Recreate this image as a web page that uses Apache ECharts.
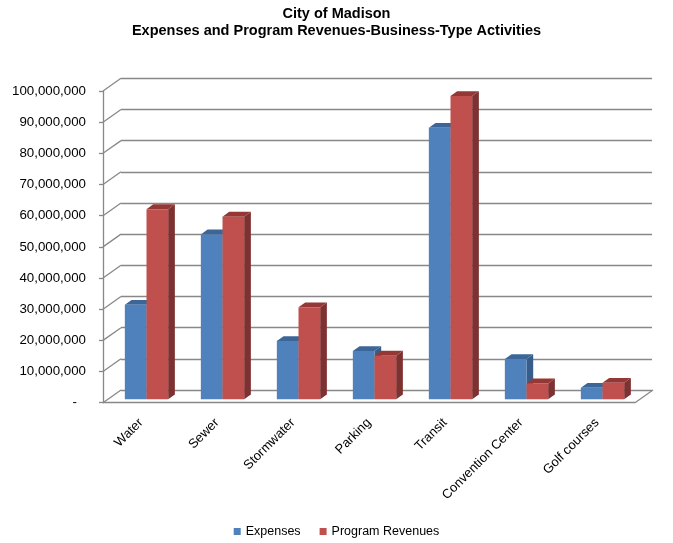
<!DOCTYPE html>
<html lang="en">
<head>
    <meta charset="UTF-8">
    <title>City of Madison</title>
    <script src="https://cdn.jsdelivr.net/npm/echarts@6/dist/echarts.min.js"></script>
    <style>
        html, body { margin: 0; padding: 0; background: #fff; }
        #chart { width: 673px; height: 543px; }
    </style>
</head>
<body>
<div id="chart"></div>
<script>
    // data
    var categories = ['Water', 'Sewer', 'Stormwater', 'Parking', 'Transit', 'Convention Center', 'Golf courses'];
    var expenses = [30300000, 52900000, 18700000, 15500000, 87100000, 12900000, 3700000];
    var revenues = [61000000, 58600000, 29500000, 14000000, 97300000, 5100000, 5300000];
    var seriesNames = ['Expenses', 'Program Revenues'];
    var yMax = 100000000;
    var yStep = 10000000;

    // fake 3d: back wall offset and bar depth
    var WALL_DX = 18, WALL_DY = -12.7;
    var BAR_DX = 6.7, BAR_DY = -4.8;
    var front = { left: 103, right: 38, top: 91, bottom: 140.3 };

    var blue = { front: '#4F81BD', side: '#385D8A', top: '#3C6697' };
    var red = { front: '#C0504D', side: '#7D3130', top: '#953835' };
    var lineColor = '#888888';

    var yTicks = [];
    for (var t = 0; t <= yMax; t += yStep) yTicks.push([0, t]);

    function barItem(isLeft, c) {
        return function (params, api) {
            var i = api.value(0);
            var top = api.coord([i, api.value(1)]);
            var base = api.coord([i, 0]);
            var bw = api.size([1, 0])[0] * 0.285;
            var x = isLeft ? top[0] - bw : top[0];
            var yT = top[1], yB = base[1];
            return {
                type: 'group',
                children: [
                    { type: 'polygon', shape: { points: [[x + bw, yB], [x + bw + BAR_DX, yB + BAR_DY], [x + bw + BAR_DX, yT + BAR_DY], [x + bw, yT]] }, style: { fill: c.side } },
                    { type: 'polygon', shape: { points: [[x, yT], [x + BAR_DX, yT + BAR_DY], [x + bw + BAR_DX, yT + BAR_DY], [x + bw, yT]] }, style: { fill: c.top } },
                    { type: 'rect', shape: { x: x, y: yT, width: bw, height: yB - yT }, style: { fill: c.front } }
                ]
            };
        };
    }

    // slanted lines of the side wall, plus the right edge of the floor
    function wallSlant(params, api) {
        var p = api.coord([0, api.value(1)]);
        var cs = params.coordSys;
        var kids = [{
            type: 'line',
            shape: { x1: cs.x, y1: p[1], x2: cs.x + WALL_DX, y2: p[1] + WALL_DY },
            style: { stroke: lineColor, lineWidth: 1.3 }
        }];
        if (api.value(1) === 0) {
            kids.push({
                type: 'line',
                shape: { x1: cs.x + cs.width, y1: p[1], x2: cs.x + cs.width + WALL_DX, y2: p[1] + WALL_DY },
                style: { stroke: lineColor, lineWidth: 1.3 }
            });
        }
        return { type: 'group', children: kids };
    }

    var myChart = echarts.init(document.getElementById('chart'));
    myChart.setOption({
        animation: false,
        textStyle: { fontFamily: 'Liberation Sans, Arial, sans-serif' },
        title: {
            text: 'City of Madison\nExpenses and Program Revenues-Business-Type Activities',
            left: 'center',
            top: 0,
            textStyle: { fontSize: 14.5, fontWeight: 'bold', color: '#000', lineHeight: 17 }
        },
        legend: {
            data: seriesNames,
            bottom: 0,
            left: 'center',
            icon: 'rect',
            itemWidth: 7,
            itemHeight: 7,
            itemGap: 19,
            textStyle: { fontSize: 12.5, color: '#000' }
        },
        grid: [
            front,
            { left: front.left + WALL_DX, right: front.right - WALL_DX + 1, top: front.top + WALL_DY, bottom: front.bottom - WALL_DY },
            { left: front.left + 5.5, right: front.right - 5.5, top: front.top - 3.4, bottom: front.bottom + 3.4 }
        ],
        xAxis: [
            {
                gridIndex: 0, type: 'category', data: categories,
                axisLine: { lineStyle: { color: lineColor, width: 1.3 } },
                axisTick: { length: 5, lineStyle: { color: lineColor, width: 1.3 } },
                axisLabel: { rotate: 45, margin: 18, fontSize: 13, color: '#000' }
            },
            { gridIndex: 1, type: 'category', data: categories, show: false },
            { gridIndex: 2, type: 'category', data: categories, show: false }
        ],
        yAxis: [
            {
                gridIndex: 0, type: 'value', min: 0, max: yMax, interval: yStep,
                axisLine: { show: true, lineStyle: { color: lineColor, width: 1.3 } },
                axisTick: { show: true, length: 4, lineStyle: { color: lineColor, width: 1.3 } },
                splitLine: { show: false },
                axisLabel: {
                    margin: 17, fontSize: 13.3, color: '#000',
                    formatter: function (v) {
                        return v === 0 ? '{d|-}' : v.toLocaleString('en-US');
                    },
                    rich: { d: { fontSize: 13.3, color: '#000', padding: [0, 9, 0, 0] } }
                }
            },
            {
                gridIndex: 1, type: 'value', min: 0, max: yMax, interval: yStep,
                axisLine: { show: false }, axisTick: { show: false }, axisLabel: { show: false },
                splitLine: { show: true, lineStyle: { color: lineColor, width: 1.3 } }
            },
            { gridIndex: 2, type: 'value', min: 0, max: yMax, interval: yStep, show: false, splitLine: { show: false } }
        ],
        series: [
            {
                type: 'custom', name: 'wall', xAxisIndex: 0, yAxisIndex: 0,
                data: yTicks, renderItem: wallSlant, silent: true
            },
            {
                type: 'custom', name: seriesNames[0], xAxisIndex: 2, yAxisIndex: 2,
                itemStyle: { color: blue.front },
                data: expenses.map(function (v, i) { return [i, v]; }),
                renderItem: barItem(true, blue)
            },
            {
                type: 'custom', name: seriesNames[1], xAxisIndex: 2, yAxisIndex: 2,
                itemStyle: { color: red.front },
                data: revenues.map(function (v, i) { return [i, v]; }),
                renderItem: barItem(false, red)
            }
        ]
    });
</script>
</body>
</html>
